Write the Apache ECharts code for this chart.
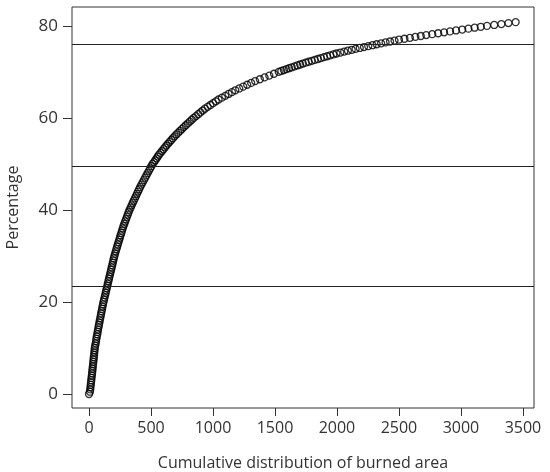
<!DOCTYPE html>
<html>
<head>
<meta charset="utf-8">
<script src="https://cdn.jsdelivr.net/npm/echarts@6/dist/echarts.min.js"></script>
<style>
  html, body { margin: 0; padding: 0; background: #fff; }
  #scatter-chart { width: 550px; height: 472px; }
</style>
</head>
<body>
<div id="scatter-chart"></div>
<script>
// cumulative burned area (x) and percentage (y)
const burnedArea = [
  0, 8, 10, 12, 14.5, 16.5, 18.5, 20.5, 23, 25, 27, 29, 31, 33, 35, 37, 39, 41, 43, 45,
  47, 50, 54, 57, 60, 63, 67, 70, 73, 77, 80, 84, 87, 91, 95, 98, 102, 106, 109, 113,
  117, 121.5, 126, 130.5, 135, 139, 143.5, 148, 152, 156.5, 161, 165, 170, 174, 179, 183, 187.5, 192, 196, 200.5,
  205, 210.5, 216, 221.5, 227, 232.5, 238, 244, 249.5, 255, 261, 266.5, 272.5, 278.5, 285, 292, 299, 306, 313, 320,
  327, 335.5, 344, 352.5, 361, 370, 378.5, 387, 396, 404.5, 413, 423, 433, 443, 453, 463, 473, 483, 493, 503,
  513, 525, 535, 545, 555, 565, 577, 589, 601, 613, 625, 638, 651, 664, 677, 690, 705, 720, 735, 750,
  765, 781, 797, 813, 829, 845, 863, 881, 899, 917, 935, 957, 979, 1001, 1023, 1045, 1072, 1099, 1126, 1153,
  1180, 1212, 1244, 1276, 1308, 1340, 1378, 1416, 1454, 1492, 1530, 1551, 1572, 1593, 1614, 1635, 1658, 1680, 1703, 1725,
  1748, 1772, 1797, 1821, 1846, 1870, 1895, 1920, 1946, 1971, 1996, 2027, 2058, 2088, 2119, 2150, 2184, 2218, 2252, 2286,
  2320, 2356, 2392, 2428, 2464, 2500, 2544, 2588, 2632, 2676, 2720, 2768, 2816, 2864, 2912, 2960, 3010, 3060, 3110, 3160,
  3210, 3268, 3326, 3383, 3441
];
const percentage = [
  0, 0.5, 1, 1.5, 2, 2.5, 3, 3.5, 4, 4.5, 5, 5.5, 6, 6.5, 7, 7.5, 8, 8.5, 9, 9.5,
  10, 10.5, 11, 11.5, 12, 12.5, 13, 13.5, 14, 14.5, 15, 15.5, 16, 16.5, 17, 17.5, 18, 18.5, 19, 19.5,
  20, 20.5, 21, 21.5, 22, 22.5, 23, 23.5, 24, 24.5, 25, 25.5, 26, 26.5, 27, 27.5, 28, 28.5, 29, 29.5,
  30, 30.5, 31, 31.5, 32, 32.5, 33, 33.5, 34, 34.5, 35, 35.5, 36, 36.5, 37, 37.5, 38, 38.5, 39, 39.5,
  40, 40.5, 41, 41.5, 42, 42.5, 43, 43.5, 44, 44.5, 45, 45.5, 46, 46.5, 47, 47.5, 48, 48.5, 49, 49.5,
  50, 50.4, 50.8, 51.2, 51.6, 52, 52.4, 52.8, 53.2, 53.6, 54, 54.4, 54.8, 55.2, 55.6, 56, 56.4, 56.8, 57.2, 57.6,
  58, 58.4, 58.8, 59.2, 59.6, 60, 60.4, 60.8, 61.2, 61.6, 62, 62.4, 62.8, 63.2, 63.6, 64, 64.4, 64.8, 65.2, 65.6,
  66, 66.4, 66.8, 67.2, 67.6, 68, 68.4, 68.8, 69.2, 69.6, 70, 70.2, 70.4, 70.6, 70.8, 71, 71.2, 71.4, 71.6, 71.8,
  72, 72.2, 72.4, 72.6, 72.8, 73, 73.2, 73.4, 73.6, 73.8, 74, 74.2, 74.4, 74.6, 74.8, 75, 75.2, 75.4, 75.6, 75.8,
  76, 76.2, 76.4, 76.6, 76.8, 77, 77.2, 77.4, 77.6, 77.8, 78, 78.2, 78.4, 78.6, 78.8, 79, 79.2, 79.4, 79.6, 79.8,
  80, 80.2, 80.4, 80.6, 80.8
];
const xTicks = [0, 500, 1000, 1500, 2000, 2500, 3000, 3500];
const yTicks = [0, 20, 40, 60, 80];
const refLines = [23.5, 49.6, 75.9];

const textColor = '#333';
const fontFamily = "'Open Sans', sans-serif";

let chart = echarts.init(document.getElementById('scatter-chart'), null, { renderer: 'canvas' });

let points = burnedArea.map((x, i) => [x, percentage[i]]);

let option = {
    animation: false,
    backgroundColor: '#fff',
    grid: {
        left: 72, right: 16, top: 7, bottom: 64, containLabel: false, outerBoundsMode: 'none',
        show: true, borderColor: '#333', borderWidth: 1
    },
    xAxis: {
        type: 'value', min: -137, max: 3589,
        name: 'Cumulative distribution of burned area', nameLocation: 'middle', nameGap: 47,
        nameTextStyle: { fontSize: 16, color: textColor, fontFamily: fontFamily },
        axisLine: { show: false, onZero: false },
        axisTick: { show: true, customValues: xTicks, length: 8, lineStyle: { color: '#333' } },
        axisLabel: { customValues: xTicks, formatter: v => String(v), fontSize: 16, color: textColor, fontFamily: fontFamily, margin: 12 },
        splitLine: { show: false }
    },
    yAxis: {
        type: 'value', min: -3.04, max: 84.1,
        name: 'Percentage', nameLocation: 'middle', nameGap: 51,
        nameTextStyle: { fontSize: 16, color: textColor, fontFamily: fontFamily },
        axisLine: { show: false, onZero: false },
        axisTick: { show: true, customValues: yTicks, length: 9, lineStyle: { color: '#333' } },
        axisLabel: { customValues: yTicks, formatter: v => String(v), fontSize: 17, color: textColor, fontFamily: fontFamily, margin: 14 },
        splitLine: { show: false }
    },
    series: [{
        type: 'scatter',
        data: points,
        symbol: 'circle',
        symbolSize: 7,
        itemStyle: { color: 'rgba(0,0,0,0)', borderColor: '#000', borderWidth: 1.3 },
        markLine: {
            silent: true, symbol: 'none', label: { show: false },
            lineStyle: { color: '#222', width: 1, type: 'solid' },
            data: refLines.map(v => ({ yAxis: v }))
        }
    }]
};

chart.setOption(option);
</script>
</body>
</html>
